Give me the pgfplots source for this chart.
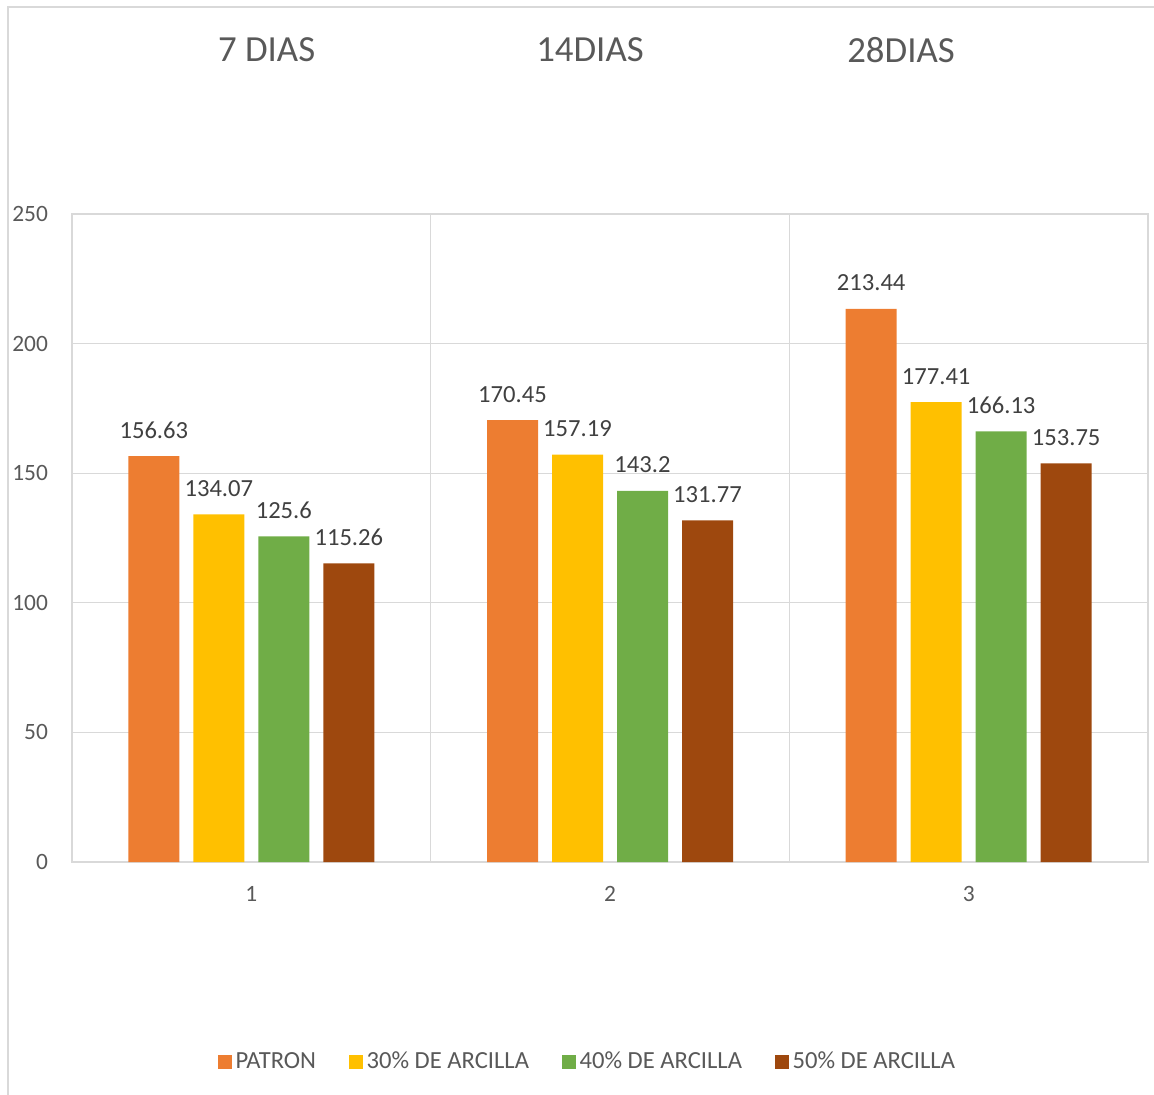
\documentclass[border=0pt]{standalone}
\usepackage{pgfplots}
\pgfplotsset{compat=1.18}
\usepackage{fontspec}
\setmainfont{Carlito}
\definecolor{cOr}{HTML}{ED7D31}
\definecolor{cYe}{HTML}{FFC000}
\definecolor{cGr}{HTML}{70AD47}
\definecolor{cBr}{HTML}{9E480E}
\definecolor{gridc}{HTML}{D9D9D9}
\definecolor{txt}{HTML}{595959}
\definecolor{lbl}{HTML}{404040}
\begin{document}
\begin{tikzpicture}
\path[use as bounding box] (0pt,0pt) rectangle (577pt,-547.5pt);
\draw[gridc, line width=0.6pt] (4pt,-547.5pt) -- (4pt,-3.5pt) -- (577pt,-3.5pt);
\node[txt, font=\fontsize{18.4}{22}\selectfont] at (133.3pt,-25pt) {7 DIAS};
\node[txt, font=\fontsize{18.4}{22}\selectfont] at (295pt,-25pt) {14DIAS};
\node[txt, font=\fontsize{18.4}{22}\selectfont] at (450.5pt,-25pt) {28DIAS};
\begin{axis}[
  at={(36pt,-431pt)}, anchor=south west,
  scale only axis, width=538pt, height=324pt,
  ybar, bar width=25.5pt,
  xmin=0.5, xmax=3.5, ymin=0, ymax=250,
  xtick={1,2,3}, xticklabels={1,2,3},
  minor xtick={1.5,2.5}, xminorgrids,
  ytick={0,50,100,150,200,250}, ymajorgrids,
  major tick length=0pt, minor tick length=0pt,
  grid style={gridc, line width=0.6pt},
  minor grid style={gridc, line width=0.6pt},
  axis line style={gridc, line width=0.6pt},
  /pgf/number format/assume math mode=true,
  ticklabel style={font=\fontsize{11.7}{13}\selectfont, text=txt},
  yticklabel style={xshift=-8.5pt},
  xticklabel style={yshift=-8.75pt},
  nodes near coords,
  every node near coord/.append style={font=\fontsize{12.3}{14}\selectfont, text=lbl, yshift=5.3pt},
  legend columns=4,
  legend style={draw=none, at={(0.48,-0.3086)}, anchor=center,
    font=\fontsize{12.3}{14}\selectfont, text=txt,
    /tikz/every even column/.append style={column sep=14.5pt}},
  legend cell align=left,
]
\addplot[fill=cOr, draw=none, bar shift=-48.75pt,
  legend image code/.code={\fill[cOr] (0pt,-3.4pt) rectangle (6.8pt,3.4pt);}]
  coordinates {(1,156.63) (2,170.45) (3,213.44)};
\addplot[fill=cYe, draw=none, bar shift=-16.25pt,
  legend image code/.code={\fill[cYe] (0pt,-3.4pt) rectangle (6.8pt,3.4pt);}]
  coordinates {(1,134.07) (2,157.19) (3,177.41)};
\addplot[fill=cGr, draw=none, bar shift=16.25pt,
  legend image code/.code={\fill[cGr] (0pt,-3.4pt) rectangle (6.8pt,3.4pt);}]
  coordinates {(1,125.6) (2,143.2) (3,166.13)};
\addplot[fill=cBr, draw=none, bar shift=48.75pt,
  legend image code/.code={\fill[cBr] (0pt,-3.4pt) rectangle (6.8pt,3.4pt);}]
  coordinates {(1,115.26) (2,131.77) (3,153.75)};
\legend{PATRON, 30\% DE ARCILLA, 40\% DE ARCILLA, 50\% DE ARCILLA}
\end{axis}
\end{tikzpicture}
\end{document}
